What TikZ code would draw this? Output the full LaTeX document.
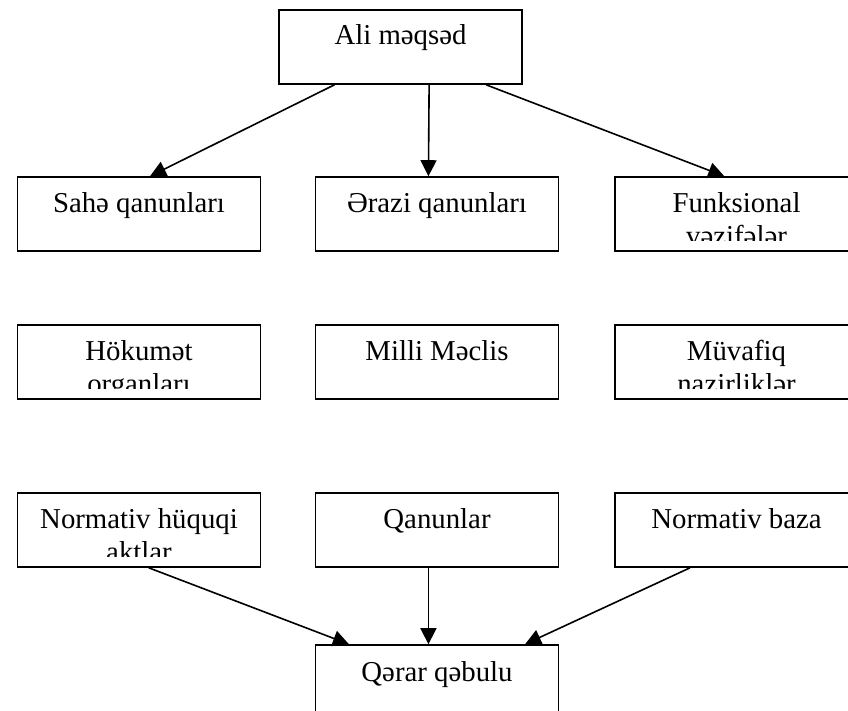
\documentclass[tikz,border=0pt]{standalone}
\usepackage{fontspec}
\setmainfont{Liberation Serif}
\usetikzlibrary{calc,arrows.meta}
\tikzstyle{block}=[rectangle, draw, line width=1.6pt, minimum width=243pt, minimum height=74pt, inner sep=0pt]
\tikzstyle{boxtext}=[align=center, anchor=base, inner sep=0pt, font=\fontsize{28.8}{33}\selectfont]
\tikzstyle{link}=[line width=1.6pt, -{Triangle[length=16pt,width=16pt]}]

\begin{document}
\begin{tikzpicture}[x=1pt, y=-1pt]
    \useasboundingbox (0,0) rectangle (848,710);
    \clip (0,0) rectangle (848,710);

    % the boxes, text cut off above the lower edge
    \foreach \nm/\cx/\cy/\dy/\txt in {
      ali/400.5/47/35/{Ali məqsəd},
      sahe/139/214/36/{Sahə qanunları},
      erazi/437/214/36/{Ərazi qanunları},
      funk/736.5/214/69/{Funksional\\vəzifələr},
      hokumet/139/362/69/{Hökumət\\organları},
      milli/437/362/36/{Milli Məclis},
      muvafiq/736.5/362/69/{Müvafiq\\nazirliklər},
      normativ/139/530/69/{Normativ hüquqi\\aktlar},
      qanun/437/530/36/{Qanunlar},
      baza/736.5/530/36/{Normativ baza},
      qerar/437/682/37/{Qərar qəbulu}}{
      \node[block] (\nm) at (\cx,\cy) {};
      \begin{scope}
        \clip ($(\nm.south west)+(0,-11)$) rectangle (\nm.north east);
        \node[boxtext] (\nm-txt) at ($(\nm.north)+(0,\dy)$) {\txt};
      \end{scope}
    }

    % arrows from the top box
    \draw[link] ($(ali.south west)!0.23!(ali.south east)$) -- ($(sahe.north west)!0.545!(sahe.north east)$);
    \draw[link] ($(ali.south west)!0.617!(ali.south east)$) -- ($(erazi.north west)!0.465!(erazi.north east)$);
    \draw[link] ($(ali.south west)!0.85!(ali.south east)$) -- ($(funk.north west)!0.45!(funk.north east)$);

    % arrows to the bottom box
    \draw[link] ($(normativ.south west)!0.54!(normativ.south east)$) -- ($(qerar.north west)!0.14!(qerar.north east)$);
    \draw[link] ($(qanun.south west)!0.465!(qanun.south east)$) -- ($(qerar.north west)!0.465!(qerar.north east)$);
    \draw[link] ($(baza.south west)!0.31!(baza.south east)$) -- ($(qerar.north west)!0.86!(qerar.north east)$);
\end{tikzpicture}
\end{document}
